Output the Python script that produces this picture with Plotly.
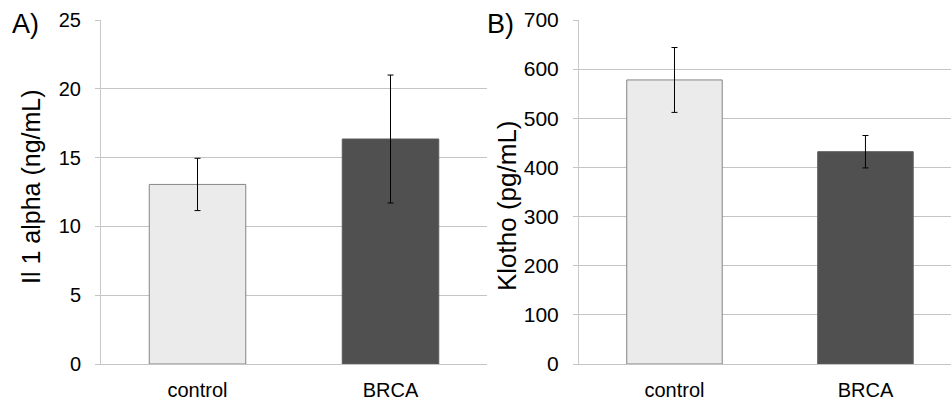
import plotly.graph_objects as go

categories = ["control", "BRCA"]
il1_values = [13.05, 16.35]
il1_errors = [1.9, 4.65]
klotho_values = [578, 432]
klotho_errors = [66, 33]
il1_ticks = [0, 5, 10, 15, 20, 25]
klotho_ticks = [0, 100, 200, 300, 400, 500, 600, 700]

bar_fill = ["#ebebeb", "#505050"]
bar_line = ["#858585", "#5a5a5a"]

W, H = 951, 408
FONT = "Liberation Sans, Arial, sans-serif"

fig = go.Figure()
fig.add_trace(go.Bar(
    x=categories, y=il1_values, xaxis="x", yaxis="y", width=0.5,
    marker=dict(color=bar_fill, line=dict(color=bar_line, width=1)),
    error_y=dict(type="data", array=il1_errors, color="#000000", thickness=1, width=3),
    showlegend=False,
))
fig.add_trace(go.Bar(
    x=categories, y=klotho_values, xaxis="x2", yaxis="y2", width=0.5,
    marker=dict(color=bar_fill, line=dict(color=bar_line, width=1)),
    error_y=dict(type="data", array=klotho_errors, color="#000000", thickness=1, width=3),
    showlegend=False,
))

ydom = [1 - 364 / H, 1 - 20 / H]
axis_common_y = dict(
    showgrid=True, gridcolor="#c4c4c4", gridwidth=1,
    showline=True, linecolor="#c8c8c8", linewidth=1,
    ticks="outside", ticklen=5, tickcolor="#c4c4c4",
    zeroline=False, domain=ydom, automargin=False,
)
axis_common_x = dict(
    showgrid=False, showline=True, linecolor="#c4c4c4", linewidth=1,
    ticks="", tickfont=dict(family=FONT, size=20, color="#000000"),
    type="category", automargin=False, ticklabelstandoff=8,
)

fig.update_layout(
    width=W, height=H, autosize=False,
    margin=dict(l=0, r=0, t=0, b=0, pad=0),
    paper_bgcolor="white", plot_bgcolor="white",
    xaxis=dict(axis_common_x, domain=[101 / W, 487 / W], range=[-0.5, 1.5], anchor="y"),
    yaxis=dict(axis_common_y, range=[0, 25], tickvals=il1_ticks, anchor="x",
               tickfont=dict(family=FONT, size=20, color="#000000"), ticklabelstandoff=10),
    xaxis2=dict(axis_common_x, domain=[579 / W, 1.0], range=[-0.5, 1.5 - 10 / 192], anchor="y2"),
    yaxis2=dict(axis_common_y, range=[0, 700], tickvals=klotho_ticks, anchor="x2",
                tickfont=dict(family=FONT, size=21, color="#000000"), ticklabelstandoff=10),
    annotations=[
        dict(text="A)", x=10 / W, y=1 - 24 / H, xref="paper", yref="paper",
             xanchor="left", yanchor="middle", showarrow=False,
             font=dict(family=FONT, size=27, color="#000000")),
        dict(text="B)", x=485 / W, y=1 - 24 / H, xref="paper", yref="paper",
             xanchor="left", yanchor="middle", showarrow=False,
             font=dict(family=FONT, size=27, color="#000000")),
        dict(text="Il 1 alpha (ng/mL)", x=31 / W, y=1 - 187 / H, xref="paper", yref="paper",
             xanchor="center", yanchor="middle", textangle=-90, showarrow=False,
             font=dict(family=FONT, size=25, color="#000000")),
        dict(text="Klotho (pg/mL)", x=507 / W, y=1 - 206 / H, xref="paper", yref="paper",
             xanchor="center", yanchor="middle", textangle=-90, showarrow=False,
             font=dict(family=FONT, size=26, color="#000000")),
    ],
)

fig.write_html(
    "out.html",
    config={"displayModeBar": False},
    post_script="document.body.style.margin='0px';document.body.style.overflow='hidden';",
)
